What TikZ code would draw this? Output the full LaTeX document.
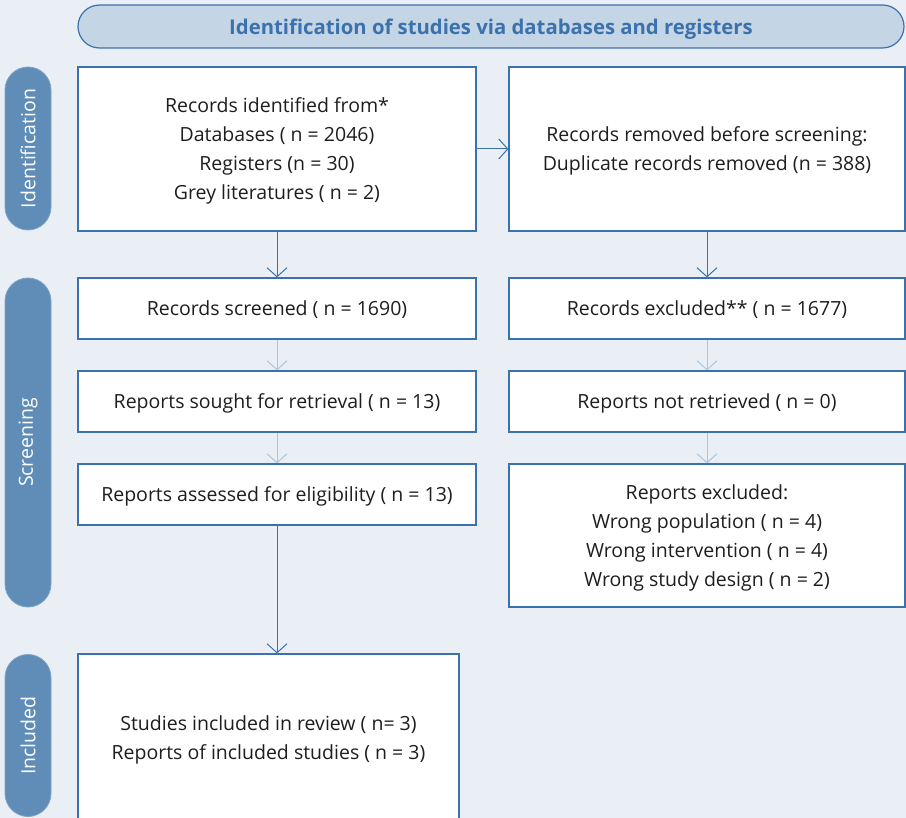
\documentclass[tikz,border=0pt]{standalone}
\usepackage{fontspec}
\setmainfont{Open Sans}
\usetikzlibrary{arrows.meta}
\definecolor{bgc}{HTML}{EAEFF6}
\definecolor{hdrfill}{HTML}{C4D5E5}
\definecolor{edgec}{HTML}{3B72AD}
\definecolor{pillc}{HTML}{5F8DB8}
\definecolor{lightarr}{HTML}{A9C6DE}
\definecolor{txtc}{HTML}{1E1E1E}
\tikzset{
  box/.style={draw=edgec, line width=1.2pt, fill=white, align=center, text=txtc,
    font=\fontsize{19.5}{29}\selectfont, inner sep=0pt, text depth=-1pt},
  multi/.style={text depth=-7pt},
  pill/.style={fill=pillc, draw=pillc!80!white, line width=0.8pt, rounded corners=23pt, text=white,
    font=\fontsize{19.5}{22}\selectfont, rotate=90, inner sep=0pt},
  hdr/.style={draw=edgec, line width=1.2pt, fill=hdrfill, rounded corners=21.5pt, text=edgec,
    font=\bfseries\fontsize{20.3}{24}\selectfont, inner sep=0pt, text depth=-3.5pt},
  darr/.style={draw=edgec, line width=1pt, -{Straight Barb[length=9pt,width=20pt]}},
  larr/.style={draw=lightarr, line width=1pt, -{Straight Barb[length=9pt,width=20pt]}},
}
\begin{document}
\begin{tikzpicture}[x=1pt,y=-1pt]
\fill[bgc] (0,0) rectangle (906,818);
\useasboundingbox (0,0) rectangle (906,818);
% header
\node[hdr, minimum width=826pt, minimum height=43pt] (hdr) at (491,26.5) {Identification of studies via databases and registers};
% pills
\node[pill, minimum width=163pt, minimum height=46pt] (p1) at (28,148.5) {Identification};
\node[pill, minimum width=329pt, minimum height=46pt] (p2) at (28,442.5) {Screening};
\node[pill, minimum width=162pt, minimum height=46pt] (p3) at (28,735.5) {Included};
% boxes
\node[box, multi, minimum width=398pt, minimum height=164pt] (b1) at (277,149) {Records identified from*\\Databases ( n = 2046)\\Registers (n = 30)\\Grey literatures ( n = 2)};
\node[box, multi, minimum width=396pt, minimum height=164pt] (r1) at (707,149) {Records removed before screening:\\Duplicate records removed (n = 388)};
\node[box, minimum width=398pt, minimum height=61pt] (b2) at (277,308.5) {Records screened ( n = 1690)};
\node[box, minimum width=396pt, minimum height=61pt] (r2) at (707,308.5) {Records excluded** ( n = 1677)};
\node[box, minimum width=398pt, minimum height=61pt] (b3) at (277,401.5) {Reports sought for retrieval ( n = 13)};
\node[box, minimum width=396pt, minimum height=61pt] (r3) at (707,401.5) {Reports not retrieved ( n = 0)};
\node[box, minimum width=398pt, minimum height=61pt] (b4) at (277,494.5) {Reports assessed for eligibility ( n = 13)};
\node[box, multi, minimum width=396pt, minimum height=143pt] (r4) at (707,535.5) {Reports excluded:\\Wrong population ( n = 4)\\Wrong intervention ( n = 4)\\Wrong study design ( n = 2)};
\node[box, multi, minimum width=381pt, minimum height=167pt] (b5) at (268.5,737.5) {Studies included in review ( n= 3)\\Reports of included studies ( n = 3)};
% arrows
\draw[darr] (b1.east) -- (r1.west);
\draw[darr] (b1.south) -- (b2.north);
\draw[darr] (r1.south) -- (r2.north);
\draw[larr] (b2.south) -- (b3.north);
\draw[larr] (b3.south) -- (b4.north);
\draw[larr] (r2.south) -- (r3.north);
\draw[larr] (r3.south) -- (r4.north);
\coordinate (b5top) at (b4.south |- b5.north);
\draw[darr] (b4.south) -- (b5top);
\end{tikzpicture}
\end{document}
